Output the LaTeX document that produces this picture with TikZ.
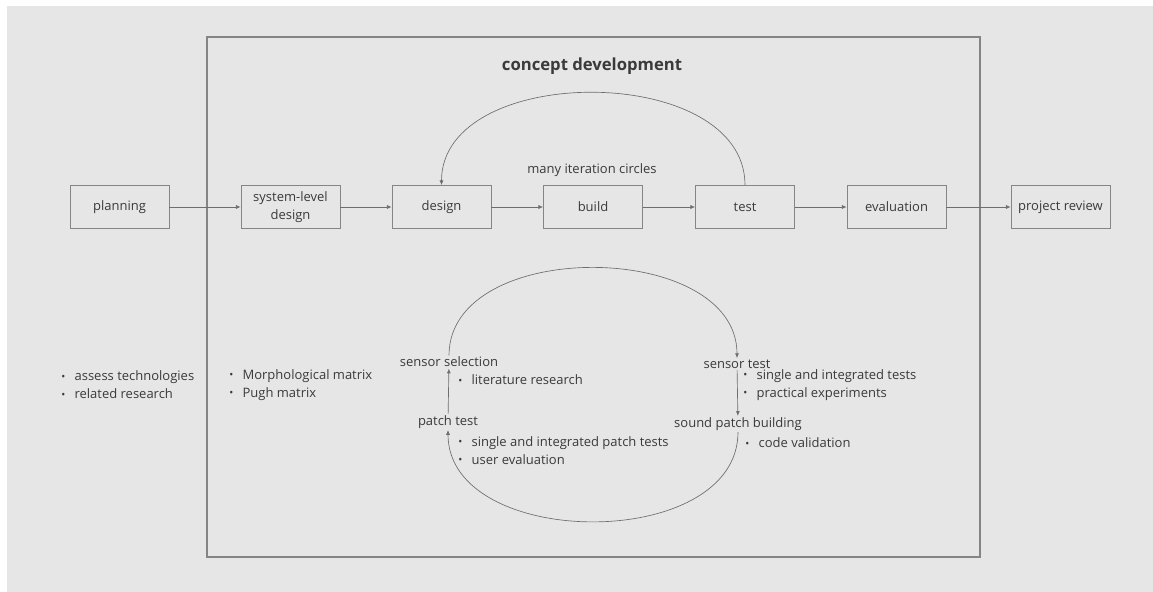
\documentclass[tikz,border=0pt]{standalone}
\usepackage{fontspec}
\setmainfont{Open Sans}
\usetikzlibrary{arrows.meta}
\definecolor{bggrey}{HTML}{E6E6E6}
\definecolor{linegrey}{HTML}{6E6E6E}
\definecolor{boxgrey}{HTML}{858585}
\definecolor{textgrey}{HTML}{3A3A3A}
\newcommand{\bitem}[1]{\makebox[10pt][l]{\raisebox{0.6pt}{\fontsize{8}{8}\selectfont\textbullet}}#1}
\tikzset{
  stage/.style={draw=boxgrey, line width=0.6pt, minimum width=74.25pt, minimum height=32.25pt, align=center, inner sep=1pt},
  notes/.style={anchor=west, align=left, inner sep=0pt},
  loopstep/.style={inner sep=1pt},
  flow/.style={draw=linegrey, line width=0.5pt, -{Latex[length=3.5pt,width=3pt]}}
}
\begin{document}
\begin{tikzpicture}[x=0.75pt, y=-0.75pt, font=\fontsize{9.75}{13.5}\selectfont, text=textgrey]
      \fill[white] (0,0) rectangle (1153,592);
      \fill[bggrey] (7,6) rectangle (1153,592);
      \useasboundingbox (0,0) rectangle (1153,592);
      \draw[boxgrey, line width=0.9pt] (207,37) rectangle (980,557);
      \draw
        (592,66) node (title){\fontsize{12.5}{14}\selectfont\bfseries concept development}
        (592,170) node (iter){many iteration circles}
        (119.5,207) node[stage] (planning){planning}
        (290.5,207) node[stage] (sysdesign){system-level\\design}
        (441.5,207) node[stage] (design){design}
        (593,207) node[stage] (build){build}
        (745,207) node[stage] (test){test}
        (896.5,207) node[stage] (evaluation){evaluation}
        (1060.5,207) node[stage] (review){project review}
        (449,362) node[loopstep] (sensorsel){sensor selection}
        (448,422) node[loopstep] (patchtest){patch test}
        (737,364) node[loopstep] (sensortest){sensor test}
        (738,424) node[loopstep] (soundpatch){sound patch building}
        (61,385) node[notes] (planningnotes){\bitem{assess technologies}\\\bitem{related research}}
        (229,385) node[notes] (sysdesignnotes){\bitem{Morphological matrix}\\\bitem{Pugh matrix}}
        (458,380) node[notes] (sensorselnotes){\bitem{literature research}}
        (458,450.5) node[notes] (patchtestnotes){\bitem{single and integrated patch tests}\\\bitem{user evaluation}}
        (743,385) node[notes] (sensortestnotes){\bitem{single and integrated tests}\\\bitem{practical experiments}}
        (745,443) node[notes] (soundpatchnotes){\bitem{code validation}};
      \begin{scope}[flow]
        \draw (planning) to (sysdesign);
        \draw (sysdesign) to (design);
        \draw (design) to (build);
        \draw (build) to (test);
        \draw (test) to (evaluation);
        \draw (evaluation) to (review);
        \draw (test.north) to[out=90, in=90, looseness=1.04] (design.north);
        \draw (sensorsel.north) to[out=90, in=90, looseness=1.05] (sensortest.north);
        \draw (sensortest) to (soundpatch);
        \draw (soundpatch.south) to[out=-90, in=-90, looseness=1.06] (patchtest.south);
        \draw (patchtest) to (sensorsel);
      \end{scope}
    \end{tikzpicture}
\end{document}
